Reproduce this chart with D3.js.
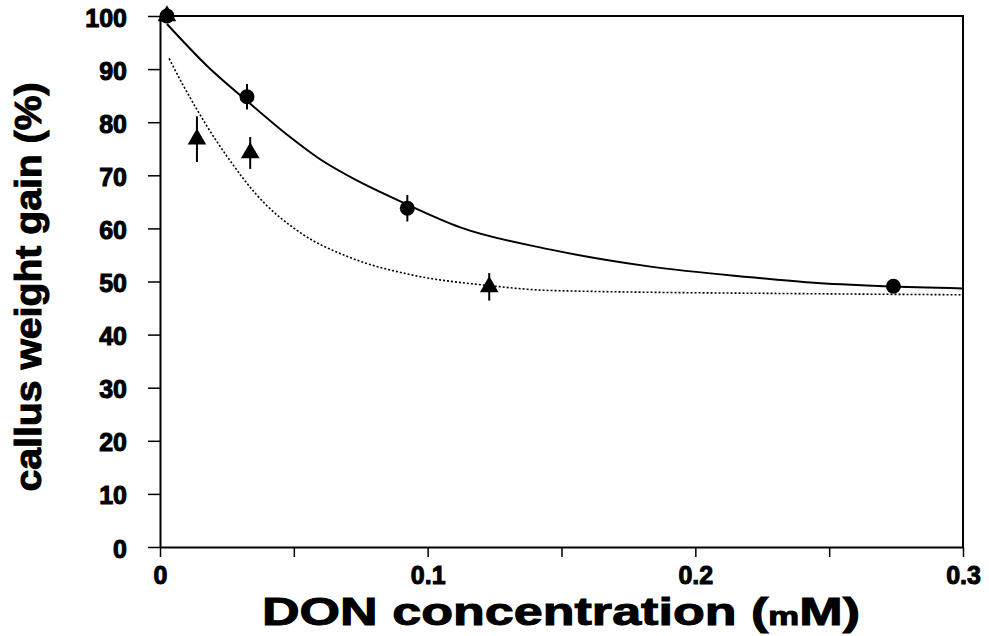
<!DOCTYPE html>
<html lang="en">
<head>
    <meta charset="UTF-8">
    <title>callus weight gain</title>
    <script src="https://d3js.org/d3.v7.min.js"></script>
    <style>
        body { margin: 0; background: #fff; }
        text { font-family: "Liberation Sans", Arial, sans-serif; font-weight: bold; fill: #000; stroke: #000; stroke-width: 1px; }
    </style>
</head>
<body>
<div id="chart"></div>
<script>
    // measured points (mean, error)
    const circleX = [0.0026, 0.0325, 0.0924, 0.274];
    const circleY = [100, 84.8, 63.8, 49.1];
    const circleErr = [0, 2.4, 2.5, 0];

    const triX = [0.0026, 0.0138, 0.0337, 0.123];
    const triY = [100, 76.8, 74.2, 49.0];
    const triErr = [0, 4.3, 3.0, 2.6];

    // fitted curves
    const solidX = [0.0026, 0.0176, 0.0325, 0.0486, 0.0587, 0.0748, 0.0898, 0.1122, 0.146, 0.1833, 0.2207, 0.243, 0.2705, 0.3];
    const solidY = [98.5, 90.6, 84.0, 77.2, 73.4, 68.7, 65.1, 60.2, 56.0, 52.8, 50.8, 49.8, 49.1, 48.7];
    const dotX = [0.0034, 0.0086, 0.0138, 0.0176, 0.025, 0.0363, 0.0524, 0.0711, 0.0935, 0.1235, 0.146, 0.243, 0.3];
    const dotY = [92, 87.0, 82.4, 79.2, 73.6, 66.2, 59.2, 54.5, 51.3, 49.2, 48.3, 47.7, 47.5];

    const xTicks = [0, 0.05, 0.1, 0.15, 0.2, 0.25, 0.3];
    const xLabels = [0, 0.1, 0.2, 0.3];
    const yTicks = [0, 10, 20, 30, 40, 50, 60, 70, 80, 90, 100];

    const width = 989, height = 636;
    const margin = {top: 16, right: 26, bottom: 89, left: 160};

    const svg = d3.select("#chart").append("svg")
        .attr("width", width)
        .attr("height", height);

    const x = d3.scaleLinear().domain([0, 0.3]).range([margin.left, width - margin.right]);
    const y = d3.scaleLinear().domain([0, 100]).range([height - margin.bottom, margin.top]);

    // frame: top and right border
    svg.append("path")
        .attr("d", `M${x(0)},${y(100)}H${x(0.3)}V${y(0)}`)
        .attr("fill", "none")
        .attr("stroke", "#000")
        .attr("stroke-width", 2);

    // x axis, ticks pointing down, labels every 0.1
    const xAxis = svg.append("g")
        .attr("transform", `translate(0,${y(0)})`)
        .call(d3.axisBottom(x).tickValues(xTicks).tickSize(10).tickSizeOuter(0)
            .tickFormat(d => xLabels.some(v => Math.abs(v - d) < 1e-9) ? String(+d.toFixed(2)) : ""));
    xAxis.select(".domain").attr("stroke-width", 2);
    xAxis.selectAll(".tick line").attr("stroke-width", 1.5);
    xAxis.selectAll("text").attr("font-size", 25).attr("y", 19).attr("dy", "0.71em");

    const yAxis = svg.append("g")
        .attr("transform", `translate(${x(0)},0)`)
        .call(d3.axisLeft(y).tickValues(yTicks).tickSize(12).tickSizeOuter(0));
    yAxis.select(".domain").attr("stroke-width", 2);
    yAxis.selectAll(".tick line").attr("stroke-width", 1.5);
    yAxis.selectAll("text").attr("font-size", 25).attr("x", -33).attr("dy", "0.4em");

    // axis titles
    const xt = svg.append("text")
        .attr("x", 561)
        .attr("y", 625)
        .attr("text-anchor", "middle")
        .attr("font-size", 39)
        .attr("textLength", 598)
        .attr("lengthAdjust", "spacingAndGlyphs");
    xt.append("tspan").text("DON concentration (");
    xt.append("tspan").attr("font-size", 26).text("m");
    xt.append("tspan").text("M)");

    svg.append("text")
        .attr("transform", `translate(41,287) rotate(-90)`)
        .attr("text-anchor", "middle")
        .attr("font-size", 36)
        .attr("textLength", 409)
        .attr("lengthAdjust", "spacingAndGlyphs")
        .text("callus weight gain (%)");

    const line = d3.line()
        .x(d => x(d[0]))
        .y(d => y(d[1]))
        .curve(d3.curveMonotoneX);

    svg.append("path")
        .attr("d", line(d3.zip(solidX, solidY)))
        .attr("fill", "none")
        .attr("stroke", "#000")
        .attr("stroke-width", 2);

    svg.append("path")
        .attr("d", line(d3.zip(dotX, dotY)))
        .attr("fill", "none")
        .attr("stroke", "#000")
        .attr("stroke-width", 1.6)
        .attr("stroke-dasharray", "2,2");

    // error bars
    const bars = d3.zip(circleX, circleY, circleErr).concat(d3.zip(triX, triY, triErr))
        .filter(d => d[2] > 0);
    svg.append("g").selectAll("line")
        .data(bars)
        .join("line")
        .attr("x1", d => x(d[0]))
        .attr("x2", d => x(d[0]))
        .attr("y1", d => y(d[1] + d[2]))
        .attr("y2", d => y(d[1] - d[2]))
        .attr("stroke", "#000")
        .attr("stroke-width", 2);

    svg.append("g").selectAll("path")
        .data(d3.zip(triX, triY))
        .join("path")
        .attr("transform", d => `translate(${x(d[0])},${y(d[1])})`)
        .attr("d", d3.symbol(d3.symbolTriangle, 150));

    svg.append("g").selectAll("circle")
        .data(d3.zip(circleX, circleY))
        .join("circle")
        .attr("cx", d => x(d[0]))
        .attr("cy", d => y(d[1]))
        .attr("r", 7.5);
</script>
</body>
</html>
